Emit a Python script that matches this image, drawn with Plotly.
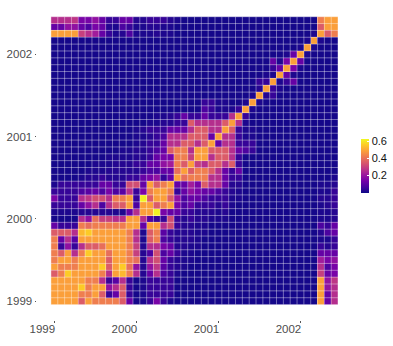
import plotly.graph_objects as go

tick_positions = [0, 12, 24, 36]
tick_labels = ["1999", "2000", "2001", "2002"]
colorbar_ticks = [0.2, 0.4, 0.6]
zmin, zmax = 0.0, 0.63

# lower triangle of the symmetric month-by-month similarity matrix (hundredths)
lower = [
 [49],
 [49,49],
 [49,49,49],
 [49,49,49,49],
 [36,43,56,49,49],
 [49,43,43,43,49,49],
 [43,49,49,43,49,49,49],
 [43,36,49,26,43,56,49,49],
 [43,5,19,5,26,36,36,40,49],
 [43,12,26,10,49,49,49,49,49,49],
 [36,36,36,26,53,56,49,49,49,49,49],
 [12,5,5,5,43,40,43,43,43,43,43,49],
 [1,1,1,1,26,19,40,30,30,26,26,49,49],
 [2,2,2,2,3,3,3,3,3,2,2,12,26,49],
 [5,5,5,5,12,19,26,8,26,36,36,49,8,49,49],
 [15,5,5,5,26,28,33,33,26,43,43,49,5,62,36,49],
 [5,5,5,5,8,10,12,8,15,8,10,26,5,15,43,49,49],
 [2,5,5,5,5,5,5,12,12,5,5,33,33,12,49,36,43,49],
 [1,1,1,1,2,3,3,5,3,3,3,5,5,12,15,19,5,12,49],
 [1,1,1,1,1,2,2,2,3,3,3,3,3,5,8,8,12,12,40,49],
 [1,1,1,1,1,1,2,2,2,3,3,3,5,5,12,12,19,22,43,36,49],
 [1,1,1,1,1,1,1,1,2,2,2,2,3,3,5,12,15,15,43,43,30,49],
 [1,1,1,1,1,1,1,1,1,1,2,2,3,3,5,8,12,36,43,43,26,49,49],
 [1,1,1,1,1,1,1,1,1,1,1,1,2,3,5,5,12,26,26,36,36,26,36,49],
 [1,1,1,1,1,1,1,1,1,1,1,1,2,2,3,5,8,26,26,26,36,36,36,12,49],
 [1,1,1,1,1,1,1,1,1,1,1,1,2,3,5,5,5,12,12,12,26,36,36,26,26,49],
 [1,1,1,1,1,1,1,1,1,1,1,1,1,1,2,2,3,3,5,5,36,26,26,26,26,36,49],
 [1,1,1,1,1,1,1,1,1,1,1,1,1,1,1,2,2,3,5,12,5,5,12,5,5,5,26,49],
 [1,1,1,1,1,1,1,1,1,1,1,1,1,1,1,1,1,1,1,1,1,1,8,5,2,2,2,5,49],
 [1,1,1,1,1,1,1,1,1,1,1,1,1,1,1,1,1,1,1,1,1,1,5,5,2,2,1,1,2,49],
 [1,1,1,1,1,1,1,1,1,1,1,1,1,1,1,1,1,1,1,1,1,1,1,1,1,1,1,1,1,2,49],
 [1,1,1,1,1,1,1,1,1,1,1,1,1,1,1,1,1,1,1,1,1,1,1,1,1,1,1,1,1,1,3,49],
 [1,1,1,1,1,1,1,1,1,1,1,1,1,1,1,1,1,1,1,1,1,1,1,1,1,1,1,1,1,1,5,5,49],
 [1,1,1,1,1,1,1,1,1,1,1,1,1,1,1,1,1,1,1,1,1,1,1,1,1,1,1,1,1,1,1,2,2,49],
 [1,1,1,1,1,1,1,1,1,1,1,1,1,1,1,1,1,1,1,1,1,1,1,1,1,1,1,1,1,1,1,1,5,12,49],
 [1,1,1,1,1,1,1,1,1,1,1,1,1,1,1,1,1,1,1,1,1,1,1,1,1,1,1,1,1,1,1,1,12,2,15,49],
 [1,1,1,1,1,1,1,1,1,1,1,1,1,1,1,1,1,1,1,1,1,1,1,1,1,1,1,1,1,1,1,1,1,1,2,12,49],
 [1,1,1,1,1,1,1,1,1,1,1,1,1,1,1,1,1,1,1,1,1,1,1,1,1,1,1,1,1,1,1,1,1,1,1,1,2,49],
 [1,1,1,1,1,1,1,1,1,1,1,1,1,1,1,1,1,1,1,1,1,1,1,1,1,1,1,1,1,1,1,1,1,1,1,1,1,2,49],
 [49,49,49,49,30,26,22,12,5,2,3,8,2,2,2,3,2,2,1,1,1,1,1,1,1,1,1,1,1,1,1,1,1,1,1,1,1,1,2,49],
 [12,12,19,19,12,8,15,12,3,2,8,5,2,2,3,3,2,2,1,1,1,1,1,1,1,1,1,1,1,1,1,1,1,1,1,1,1,1,1,36,49],
 [26,26,26,28,15,15,19,12,5,5,12,12,3,3,5,5,5,3,2,1,1,1,1,1,1,1,1,1,1,1,1,1,1,1,1,1,1,1,1,43,49,49],
]

n = len(lower)
months = list(range(n))
z = [[(lower[max(i, j)][min(i, j)]) / 100 for j in months] for i in months]

# white tile outlines, one line per cell boundary
grid_x, grid_y = [], []
for k in range(n + 1):
    b = k - 0.5
    grid_x += [b, b, None, -0.5, n - 0.5, None]
    grid_y += [-0.5, n - 0.5, None, b, b, None]

fig = go.Figure()
fig.add_trace(go.Heatmap(
    x=months, y=months, z=z, zmin=zmin, zmax=zmax, colorscale="Plasma",
    hovertemplate="%{x}, %{y}: %{z}<extra></extra>",
    colorbar=dict(
        thickness=8, thicknessmode="pixels", len=54, lenmode="pixels",
        x=1.0286, xanchor="left", y=0.487, yanchor="middle",
        outlinewidth=0, borderwidth=0, xpad=0, ypad=0,
        tickvals=colorbar_ticks, ticktext=["0.2", "0.4", "0.6"],
        ticks="inside", ticklen=2, tickwidth=0.5, tickcolor="white",
        tickfont=dict(family="Liberation Sans", size=11, color="#111111"),
    ),
))
fig.add_trace(go.Scatter(
    x=grid_x, y=grid_y, mode="lines", hoverinfo="skip", showlegend=False,
    line=dict(color="rgba(255,255,255,0.8)", width=0.5),
))

axis_font = dict(family="Liberation Sans", size=11.5, color="#4d4d4d")
fig.update_layout(
    width=393, height=346, autosize=False,
    margin=dict(l=37, r=41, t=3, b=26, pad=0),
    paper_bgcolor="white", plot_bgcolor="white",
    showlegend=False,
    xaxis=dict(
        range=[-2.54, 43.54], tickmode="array", tickvals=tick_positions, ticktext=tick_labels,
        showgrid=False, zeroline=False, showline=False,
        ticks="outside", ticklen=1.5, tickwidth=0.7, tickcolor="#555555",
        tickfont=axis_font, ticklabelshift=-12, ticklabelstandoff=-3,
    ),
    yaxis=dict(
        range=[-2.75, 43.5], tickmode="array", tickvals=tick_positions, ticktext=tick_labels,
        showgrid=False, zeroline=False, showline=False,
        ticks="outside", ticklen=1.5, tickwidth=0.7, tickcolor="#555555",
        tickfont=axis_font,
    ),
)
fig.write_html("out.html", config={"displayModeBar": False},
               post_script="document.body.style.margin='0';")
